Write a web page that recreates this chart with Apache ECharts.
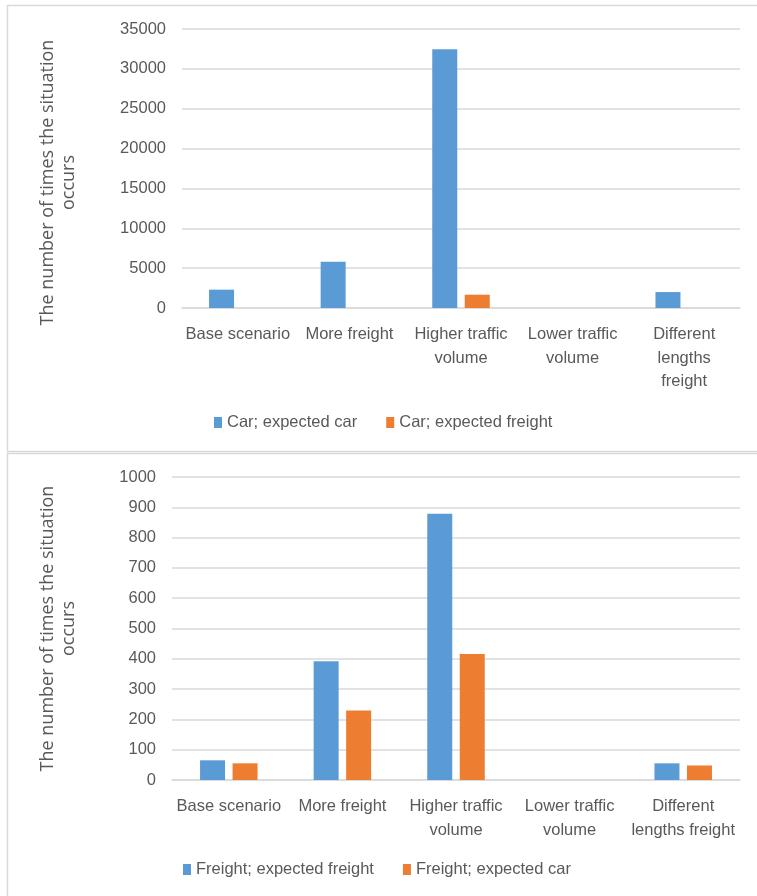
<!DOCTYPE html>
<html>
<head>
<meta charset="utf-8">
<script src="https://cdn.jsdelivr.net/npm/echarts@6/dist/echarts.min.js"></script>
<style>
  html, body { margin: 0; padding: 0; background: #fff; }
  #chart { width: 757px; height: 896px; }
</style>
</head>
<body>
<div id="chart"></div>
<script>
// Scenario labels (line breaks follow the wrapping of each panel)
const carCategories = ['Base scenario', 'More freight', 'Higher traffic\nvolume', 'Lower traffic\nvolume', 'Different\nlengths\nfreight'];
const freightCategories = ['Base scenario', 'More freight', 'Higher traffic\nvolume', 'Lower traffic\nvolume', 'Different\nlengths freight'];

// Upper panel: cars
const carExpectedCar = [2300, 5800, 32450, 0, 2000];
const carExpectedFreight = [0, 0, 1670, 0, 0];

// Lower panel: freight
const freightExpectedFreight = [65, 392, 879, 0, 55];
const freightExpectedCar = [55, 229, 416, 0, 48];

const carTicks = { min: 0, max: 35000, interval: 5000 };
const freightTicks = { min: 0, max: 1000, interval: 100 };

const axisTitle = 'The number of times the situation\noccurs';

const BLUE = '#5B9BD5';
const ORANGE = '#ED7D31';
const TEXT = '#595959';
const GRID = '#D9D9D9';
const LABEL_FONT = '"Liberation Sans", Arial, sans-serif';
const TITLE_FONT = '"Open Sans", "DejaVu Sans", sans-serif';
const LABEL_SIZE = 16.5;

const chart = echarts.init(document.getElementById('chart'), null, { renderer: 'canvas' });

function xAxisFor(idx, cats) {
  return {
    type: 'category',
    gridIndex: idx,
    data: cats,
    axisTick: { show: false },
    axisLine: { show: true, lineStyle: { color: GRID, width: 1.5 } },
    axisLabel: {
      color: TEXT, fontFamily: LABEL_FONT, fontSize: LABEL_SIZE,
      lineHeight: 23.5, margin: 15, interval: 0
    }
  };
}

function yAxisFor(idx, ticks, gap, shift) {
  return {
    type: 'value',
    gridIndex: idx,
    min: ticks.min, max: ticks.max, interval: ticks.interval,
    axisLine: { show: false },
    axisTick: { show: false },
    splitLine: { lineStyle: { color: GRID, width: 1.5 } },
    axisLabel: {
      color: TEXT, fontFamily: LABEL_FONT, fontSize: LABEL_SIZE, margin: 16,
      formatter: v => String(v)
    },
    name: axisTitle,
    nameLocation: 'middle',
    nameGap: gap,
    nameTextStyle: {
      color: TEXT, fontFamily: TITLE_FONT, fontSize: 18, lineHeight: 21,
      padding: shift > 0 ? [0, shift, 0, 0] : 0
    }
  };
}

function barSeries(name, data, idx, color) {
  return {
    name, type: 'bar', data, color,
    xAxisIndex: idx, yAxisIndex: idx,
    barWidth: 25, barGap: '30%',
    itemStyle: { color },
    emphasis: { disabled: true }
  };
}

const legendText = { color: TEXT, fontFamily: LABEL_FONT, fontSize: LABEL_SIZE };

chart.setOption({
  animation: false,
  backgroundColor: '#fff',
  graphic: [
    { type: 'rect', shape: { x: 7.5, y: 5.5, width: 780, height: 446 },
      style: { fill: 'none', stroke: GRID, lineWidth: 1.5 }, silent: true, z: -1 },
    { type: 'rect', shape: { x: 7.5, y: 453.5, width: 780, height: 480 },
      style: { fill: 'none', stroke: GRID, lineWidth: 1.5 }, silent: true, z: -1 }
  ],
  grid: [
    { left: 182, right: 17, top: 29, height: 279 },
    { left: 172, right: 17, top: 477, height: 303 }
  ],
  xAxis: [xAxisFor(0, carCategories), xAxisFor(1, freightCategories)],
  yAxis: [yAxisFor(0, carTicks, 103, 28), yAxisFor(1, freightTicks, 93, 0)],
  legend: [
    { data: ['Car; expected car', 'Car; expected freight'], top: 409, left: 209,
      itemWidth: 8, itemHeight: 11, itemGap: 29, textStyle: legendText, icon: 'rect' },
    { data: ['Freight; expected freight', 'Freight; expected car'], top: 856, left: 178,
      itemWidth: 8, itemHeight: 11, itemGap: 29, textStyle: legendText, icon: 'rect' }
  ],
  series: [
    barSeries('Car; expected car', carExpectedCar, 0, BLUE),
    barSeries('Car; expected freight', carExpectedFreight, 0, ORANGE),
    barSeries('Freight; expected freight', freightExpectedFreight, 1, BLUE),
    barSeries('Freight; expected car', freightExpectedCar, 1, ORANGE)
  ]
});
</script>
</body>
</html>
